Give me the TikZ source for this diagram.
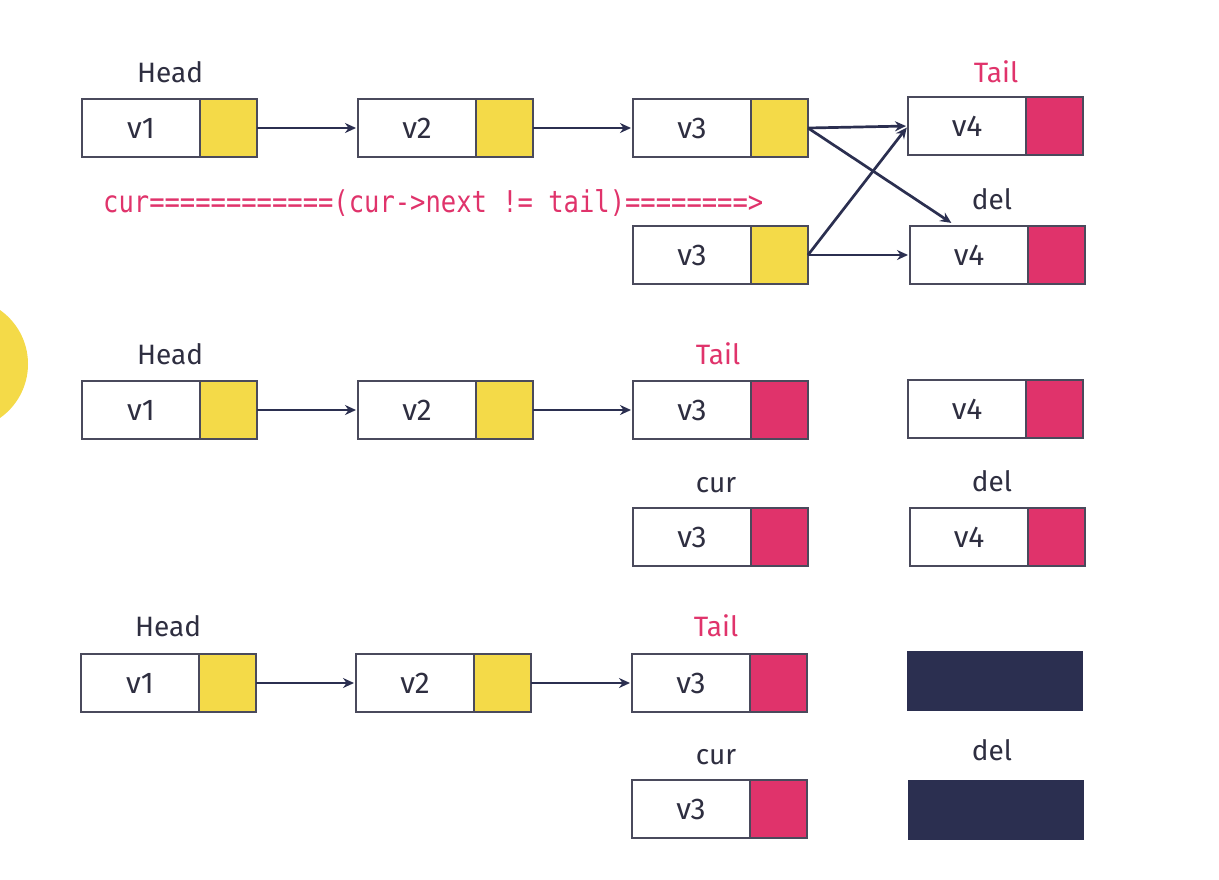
\documentclass[tikz,border=0pt]{standalone}
\usepackage{fontspec}
\usepackage{graphicx}
\setmainfont{Fira Sans}
\newfontfamily\codefont{DejaVu Sans Mono}
\usetikzlibrary{arrows.meta}
\definecolor{bordc}{HTML}{4A4A5C}
\definecolor{ylw}{HTML}{F4DA48}
\definecolor{crim}{HTML}{E0336B}
\definecolor{navy}{HTML}{2B2F50}
\definecolor{txtc}{HTML}{2E2E40}
\tikzset{
  valbox/.style={draw=bordc, line width=1.8pt, fill=white, minimum width=118pt,
    minimum height=58pt, inner sep=0pt, outer sep=0pt, anchor=north west, text=txtc,
    font=\fontsize{30}{32}\selectfont},
  ptrbox/.style={draw=bordc, line width=1.8pt, minimum width=57pt,
    minimum height=58pt, inner sep=0pt, outer sep=0pt, anchor=north west},
  darkbox/.style={draw=navy, fill=navy, line width=1pt, minimum width=175pt,
    minimum height=59pt, inner sep=0pt, outer sep=0pt, anchor=north west},
  lbl/.style={text=txtc, font=\fontsize{28}{30}\selectfont, inner sep=0pt},
  tlbl/.style={lbl, text=crim},
  arr/.style={draw=navy, line width=2.7pt, -{Stealth[length=11pt,width=10pt]}, shorten >=2pt}
}
\newcommand\lln[5]{%
  \node[valbox] (#1v) at (#2,#3) {#4};
  \node[ptrbox, fill=#5] (#1p) at (#1v.north east) {};
}
\begin{document}
\begin{tikzpicture}[x=1pt,y=-1pt]
\useasboundingbox (0,0) rectangle (1219,879);
\fill[white] (0,0) rectangle (1219,879);
\begin{scope}
  \clip (0,0) rectangle (1219,879);
  \fill[ylw] (-38,364) circle (66);
\end{scope}

% ---- Row 1 ----
\node[lbl] (h1) at (170,72) {Head};
\node[tlbl] (t1) at (996,72) {Tail};
\node[lbl] (d1) at (992,199) {del};
\lln{a1}{82}{99}{v1}{ylw}
\lln{a2}{358}{99}{v2}{ylw}
\lln{a3}{633}{99}{v3}{ylw}
\lln{a4}{908}{97}{v4}{crim}
\lln{b3}{633}{226}{v3}{ylw}
\lln{b4}{910}{226}{v4}{crim}
\node[anchor=west, text=crim, inner sep=0pt] (cond) at (103,203)
  {\scalebox{0.85}[1]{\codefont\fontsize{30}{32}\selectfont cur============(cur->next~!=~tail)========>}};
\coordinate (delin) at (953,224);
\draw[arr] (a1p.east) -- (a2v.west);
\draw[arr] (a2p.east) -- (a3v.west);
\draw[arr] (a3p.east) -- (a4v.west);
\draw[arr] (a3p.east) -- (delin);
\draw[arr] (b3p.east) -- (a4v.west);
\draw[arr] (b3p.east) -- (b4v.west);

% ---- Row 2 ----
\node[lbl] (h2) at (170,354) {Head};
\node[tlbl] (t2) at (718,354) {Tail};
\node[lbl] (c2) at (716,485) {cur};
\node[lbl] (d2) at (992,481) {del};
\lln{e1}{82}{381}{v1}{ylw}
\lln{e2}{358}{381}{v2}{ylw}
\lln{e3}{633}{381}{v3}{crim}
\lln{e4}{908}{380}{v4}{crim}
\lln{f3}{633}{508}{v3}{crim}
\lln{f4}{910}{508}{v4}{crim}
\draw[arr] (e1p.east) -- (e2v.west);
\draw[arr] (e2p.east) -- (e3v.west);

% ---- Row 3 ----
\node[lbl] (h3) at (168,626) {Head};
\node[tlbl] (t3) at (716,626) {Tail};
\node[lbl] (c3) at (716,757) {cur};
\node[lbl] (d3) at (992,750) {del};
\lln{g1}{81}{654}{v1}{ylw}
\lln{g2}{356}{654}{v2}{ylw}
\lln{g3}{632}{654}{v3}{crim}
\node[darkbox] (g4) at (907,651) {};
\lln{k3}{632}{780}{v3}{crim}
\node[darkbox] (k4) at (908,780) {};
\draw[arr] (g1p.east) -- (g2v.west);
\draw[arr] (g2p.east) -- (g3v.west);
\end{tikzpicture}
\end{document}
